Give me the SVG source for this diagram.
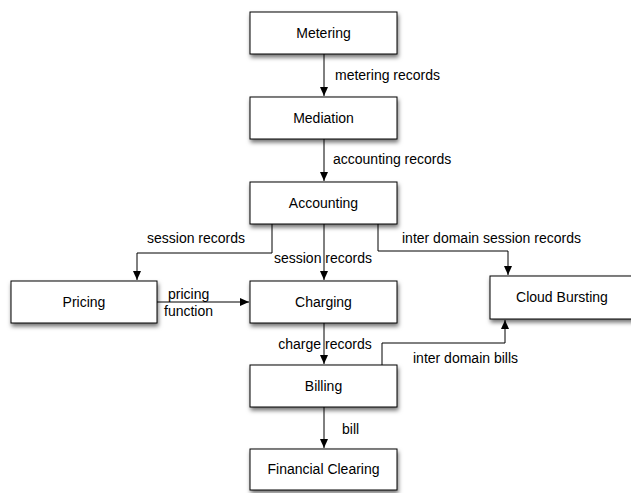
<svg xmlns="http://www.w3.org/2000/svg" width="631" height="493" viewBox="0 0 631 493">
<style>
.box{fill:#fff;stroke:#000;stroke-width:1;filter:url(#sh)}
.t{font-family:"Liberation Sans",Arial,sans-serif;font-size:14px;fill:#000}
.c{text-anchor:middle}
.ln{fill:none;stroke:#000;stroke-width:1}
</style>
<defs>
<filter id="sh" x="-10%" y="-20%" width="130%" height="160%">
<feDropShadow dx="1" dy="3" stdDeviation="2" flood-color="#000" flood-opacity="0.55"/>
</filter>
<marker id="ah" markerWidth="10" markerHeight="10" refX="9" refY="5" orient="auto" markerUnits="userSpaceOnUse">
<path d="M0,1 L9,5 L0,9 Z" fill="#000"/>
</marker>
</defs>
<rect width="631" height="493" fill="#fff"/>
<g id="connectors">
<path class="ln" d="M324,54 V96" marker-end="url(#ah)"/>
<path class="ln" d="M324,139 V181" marker-end="url(#ah)"/>
<path class="ln" d="M272,224 V253 H137 V280" marker-end="url(#ah)"/>
<path class="ln" d="M324,224 V280" marker-end="url(#ah)"/>
<path class="ln" d="M378,224 V251 H508 V275" marker-end="url(#ah)"/>
<path class="ln" d="M157,302 H249" marker-end="url(#ah)"/>
<path class="ln" d="M324,323 V364" marker-end="url(#ah)"/>
<path class="ln" d="M382,365 V343 H505 V320" marker-end="url(#ah)"/>
<path class="ln" d="M324,407 V448" marker-end="url(#ah)"/>
<text class="t" x="335" y="80">metering records</text>
<text class="t" x="333" y="164">accounting records</text>
<text class="t" x="147" y="243">session records</text>
<text class="t" x="402" y="243">inter domain session records</text>
<text class="t c" x="323" y="263">session records</text>
<text class="t" x="168" y="299">pricing</text>
<text class="t" x="164" y="316">function</text>
<text class="t c" x="325" y="349">charge records</text>
<text class="t" x="413" y="363">inter domain bills</text>
<text class="t" x="342" y="434">bill</text>
</g>
<g id="metering"><rect class="box" x="250" y="12" width="147" height="42"/><text class="t c" x="323.5" y="38">Metering</text></g>
<g id="mediation"><rect class="box" x="250" y="97" width="147" height="42"/><text class="t c" x="323.5" y="123">Mediation</text></g>
<g id="accounting"><rect class="box" x="250" y="182" width="147" height="42"/><text class="t c" x="323.5" y="208">Accounting</text></g>
<g id="pricing"><rect class="box" x="11" y="281" width="146" height="42"/><text class="t c" x="84" y="307">Pricing</text></g>
<g id="charging"><rect class="box" x="250" y="281" width="147" height="42"/><text class="t c" x="323.5" y="307">Charging</text></g>
<g id="cloud-bursting"><rect class="box" x="490" y="276" width="147" height="43"/><text class="t c" x="562" y="302">Cloud Bursting</text></g>
<g id="billing"><rect class="box" x="250" y="365" width="147" height="42"/><text class="t c" x="323.5" y="391">Billing</text></g>
<g id="financial-clearing"><rect class="box" x="250" y="449" width="147" height="41"/><text class="t c" x="323.5" y="474">Financial Clearing</text></g>
</svg>
